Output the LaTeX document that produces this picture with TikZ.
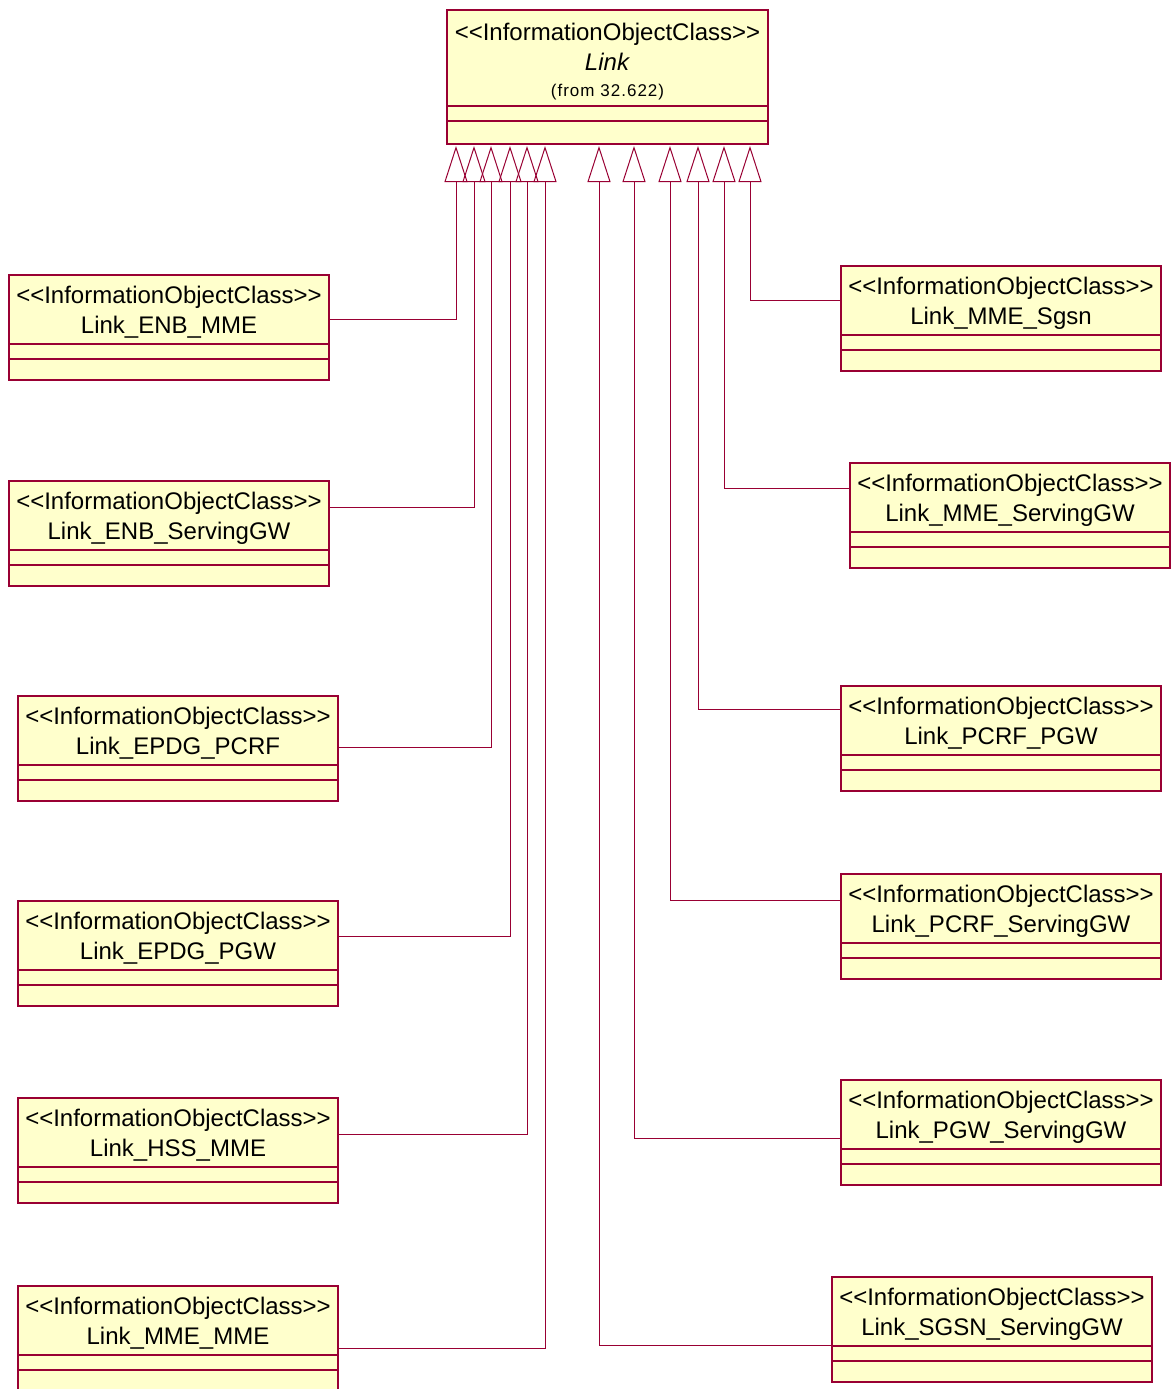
\documentclass[tikz,border=0pt]{standalone}
\usepackage{fontspec}
\setmainfont{Liberation Sans}
\usetikzlibrary{positioning, arrows.meta, calc}
\definecolor{roseline}{RGB}{153,0,51}
\definecolor{rosefill}{RGB}{255,255,204}
\newcommand{\ioctag}{<{}<InformationObjectClass>{}>}
\tikzset{
  ioc/.style={draw=roseline, fill=rosefill, line width=1.2pt, minimum width=320pt,
    minimum height=69pt, inner sep=0pt, outer sep=0pt, align=center,
    text height=52pt, text depth=4pt, font=\fontsize{24}{30}\selectfont},
  attr/.style={draw=roseline, fill=rosefill, line width=1.2pt, minimum width=320pt,
    minimum height=15pt, inner sep=0pt, outer sep=0pt},
  ops/.style={attr, minimum height=21pt},
  gen/.style={draw=roseline, line width=1pt, {Triangle[open, length=36pt, width=23pt]}-},
}

\begin{document}
\begin{tikzpicture}[x=1pt, y=1pt]
  \fill[white] (0,0) rectangle (1171,-1389);
  \useasboundingbox (0,0) rectangle (1171,-1389);

  % parent class
  \node[ioc, minimum width=321pt, minimum height=96pt, text height=80pt, anchor=north west] (link) at (447,-10)
    {\ioctag\\\textit{Link}\\[-4pt]{\fontsize{17}{20}\selectfont\addfontfeature{LetterSpace=6}(from 32.622)}};
  \node[attr, minimum width=321pt, below=0pt of link] (link-a) {};
  \node[ops, minimum width=321pt, minimum height=23pt, below=0pt of link-a] (link-o) {};

  % child classes
  \foreach \n/\x/\y/\lbl in {enbMme/9/275/ENB\_MME, enbSgw/9/481/ENB\_ServingGW,
      epdgPcrf/18/696/EPDG\_PCRF, epdgPgw/18/901/EPDG\_PGW, hssMme/18/1098/HSS\_MME,
      mmeMme/18/1286/MME\_MME, mmeSgsn/841/266/MME\_Sgsn, mmeSgw/850/463/MME\_ServingGW,
      pcrfPgw/841/686/PCRF\_PGW, pcrfSgw/841/874/PCRF\_ServingGW,
      pgwSgw/841/1080/PGW\_ServingGW, sgsnSgw/832/1277/SGSN\_ServingGW} {
    \node[ioc, anchor=north west] (\n) at (\x,-\y) {\ioctag\\Link\_\lbl};
    \node[attr, below=0pt of \n] (\n-a) {};
    \node[ops, below=0pt of \n-a] (\n-o) {};
  }

  % arrow tips under the parent
  \foreach \t/\x in {a/456, b/474, c/491, d/510, e/527, f/545,
      g/599, h/634, i/670, j/698, k/724, l/750}
    \coordinate (tip\t) at ($(link-o.south -| \x,0)+(0,-2)$);

  % generalisations
  \foreach \t/\n/\s/\side in {a/enbMme/-9.5/east, b/enbSgw/8.5/east, c/epdgPcrf/-16.5/east,
      d/epdgPgw/-0.5/east, e/hssMme/-1.5/east, f/mmeMme/-27.5/east,
      l/mmeSgsn/0/west, k/mmeSgw/9.5/west, j/pcrfPgw/11.5/west,
      i/pcrfSgw/8.5/west, h/pgwSgw/-23.5/west, g/sgsnSgw/-33.5/west}
    \draw[gen] (tip\t) |- ([yshift=\s pt]\n.\side);
\end{tikzpicture}
\end{document}
